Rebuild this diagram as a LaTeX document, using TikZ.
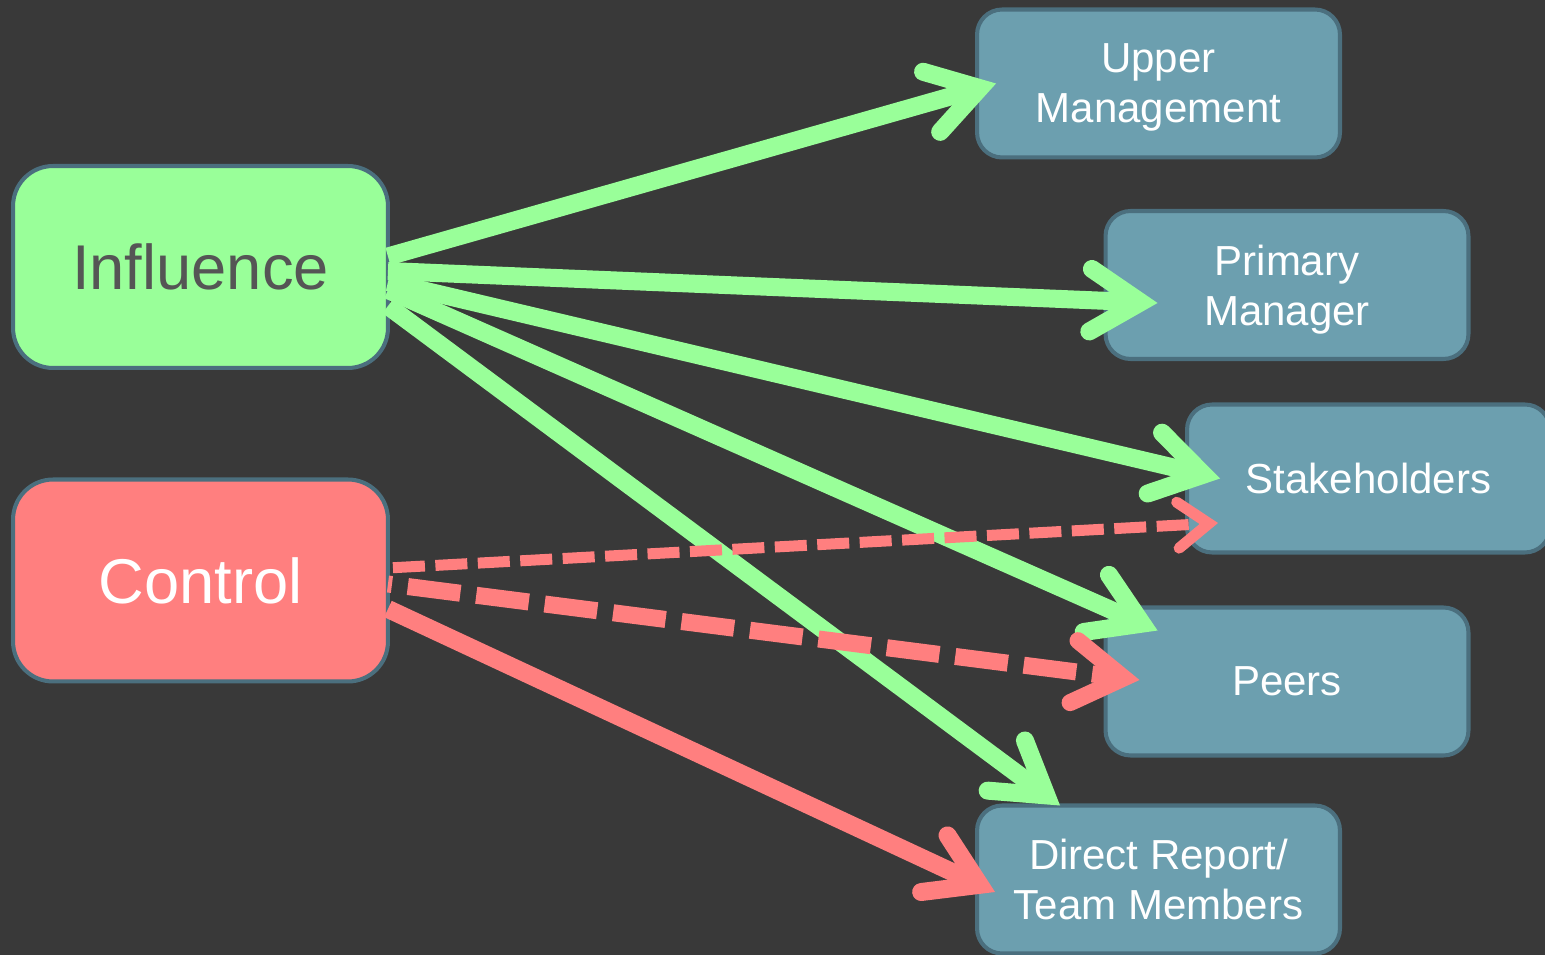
\documentclass[tikz,border=0pt]{standalone}
\usepackage{fontspec}
\setmainfont{Liberation Sans}
\usetikzlibrary{arrows.meta,calc}
\definecolor{bg}{HTML}{393939}
\definecolor{boxfill}{HTML}{6C9FAF}
\definecolor{boxdraw}{HTML}{4B6F7E}
\definecolor{gr}{HTML}{99FF99}
\definecolor{rd}{HTML}{FF7F7F}
\definecolor{inftext}{HTML}{555555}
\begin{document}
\begin{tikzpicture}[x=0.02cm,y=-0.02cm,
  target/.style={draw=boxdraw, fill=boxfill, line width=2.3pt, rounded corners=0.5cm,
    minimum width=7.26cm, minimum height=2.96cm, inner sep=0pt, outer sep=0pt,
    text=white, align=center, text depth=0pt, font=\fontsize{23.9}{28.45}\selectfont},
  source/.style={draw=boxdraw, line width=2.3pt, rounded corners=0.8cm,
    minimum width=7.5cm, minimum height=4.04cm, inner sep=0pt, outer sep=0pt,
    font=\fontsize{36}{40}\selectfont},
  bighead/.style={-{Straight Barb[length=1.0cm,width=1.25cm,line cap=round,line join=miter]}},
  smallhead/.style={-{Straight Barb[length=0.62cm,width=0.92cm,line cap=round,line join=miter]}},
  gline/.style={draw=gr, line width=0.36cm, bighead},
  rsolid/.style={draw=rd, line width=0.36cm, bighead},
  rthick/.style={draw=rd, line width=0.34cm, bighead, dash pattern=on 1.06cm off 0.32cm, dash phase=0.98cm},
  rthin/.style={draw=rd, line width=0.22cm, smallhead, dash pattern=on 0.64cm off 0.21cm, dash phase=0.75cm}
]
\fill[bg] (0,0) rectangle (1545,955);
\useasboundingbox (0,0) rectangle (1545,955);

\node[source, fill=gr, text=inftext] (inf) at (200.5,267) {Influence};
\node[source, fill=rd, text=white] (ctrl) at (200.5,580.5) {Control};
\node[target] (upper) at (1158.5,83.5) {Upper\\Management};
\node[target] (primary) at (1287,285) {Primary\\Manager};
\node[target] (stake) at (1368.5,478.5) {Stakeholders};
\node[target] (peers) at (1287,681.5) {Peers};
\node[target] (direct) at (1158.5,879.5) {Direct Report/\\Team Members};

\draw[gline] ($(inf.east)+(0,-10.5)$) -- ($(upper.west)+(19,0)$);
\draw[gline] ($(inf.east)+(0,4)$) -- ($(primary.west)+(52,18)$);
\draw[gline] ($(inf.east)+(0,15)$) -- ($(stake.west)+(33,0)$);
\draw[gline] ($(inf.east)+(0,23)$) -- ($(peers.north west)+(52,23)$);
\draw[gline] ($(inf.east)+(0,39)$) -- ($(direct.north west)+(83,0)$);

\draw[rthin] ($(ctrl.east)+(0,-12.5)$) -- ($(stake.west)+(31,44.5)$);
\draw[rthick] ($(ctrl.east)+(0,3.5)$) -- ($(peers.west)+(34,-1.5)$);
\draw[rsolid] ($(ctrl.east)+(0,28.5)$) -- ($(direct.west)+(18,12.5)$);
\end{tikzpicture}
\end{document}
